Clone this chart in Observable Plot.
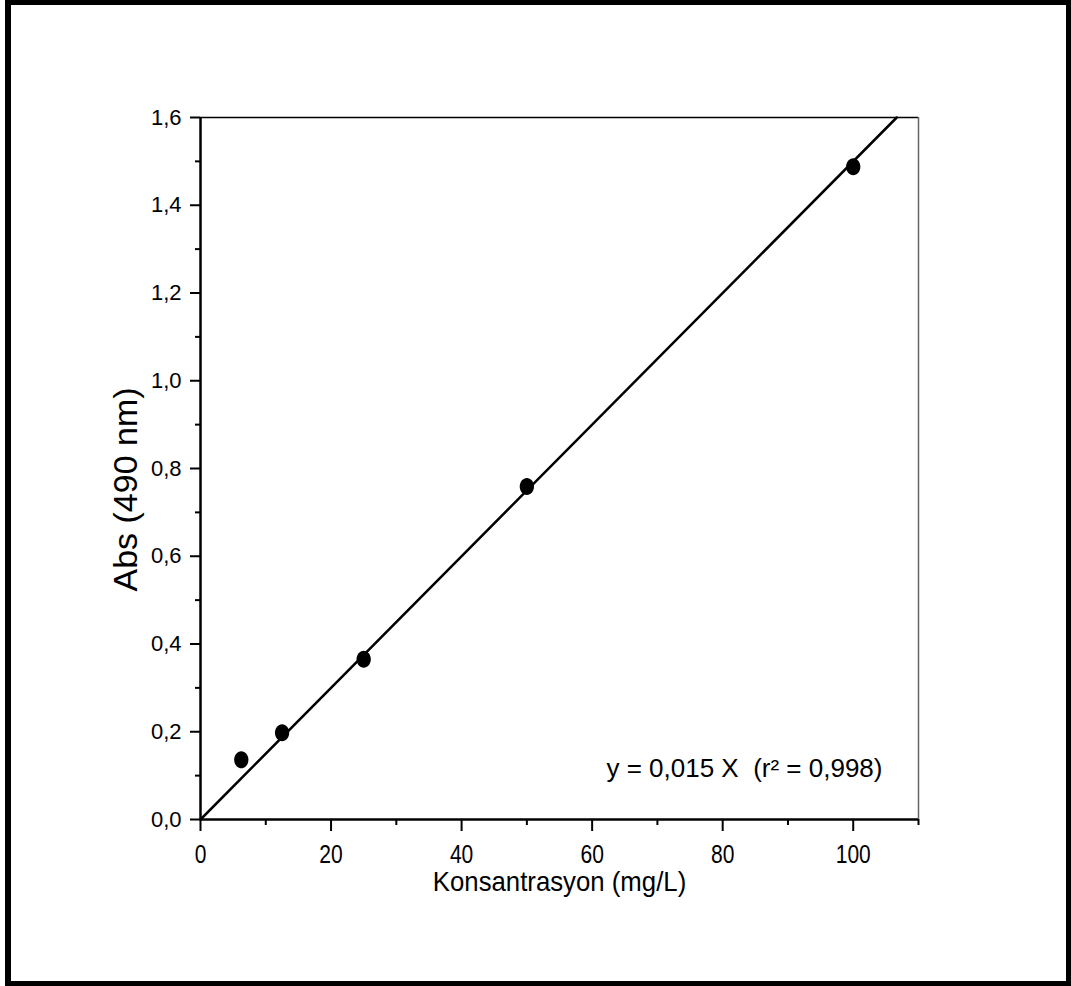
<!DOCTYPE html>
<html>
<head>
<meta charset="utf-8">
<script src="https://cdn.jsdelivr.net/npm/d3@7"></script>
<script src="https://cdn.jsdelivr.net/npm/@observablehq/plot@0.6"></script>
<style>
  html, body { margin: 0; padding: 0; background: #fff; }
  #wrap { position: relative; width: 1071px; height: 986px; overflow: hidden; }
  #border {
    position: absolute; left: 5px; top: 0; width: 1066px; height: 986px;
    box-sizing: border-box; border: 5px solid #000; border-left-width: 6px;
    pointer-events: none;
  }
  #chart { position: absolute; left: 0; top: 0; }
</style>
</head>
<body>
<div id="wrap"><div id="chart"></div><div id="border"></div></div>
<script>
// Calibration standards: concentration (mg/L) vs absorbance at 490 nm
const concentration = [6.25, 12.5, 25, 50, 100];
const absorbance = [0.136, 0.198, 0.365, 0.759, 1.488];

// Fit through the origin
const slope = 0.015;
const rSquared = "0,998";

const xMajorTicks = [0, 20, 40, 60, 80, 100];
const xMinorTicks = [10, 30, 50, 70, 90, 110];
const yMajorTicks = [0, 0.2, 0.4, 0.6, 0.8, 1.0, 1.2, 1.4, 1.6];
const yMinorTicks = [0.1, 0.3, 0.5, 0.7, 0.9, 1.1, 1.3, 1.5];

const xTitle = "Konsantrasyon (mg/L)";
const yTitle = "Abs (490 nm)";

const points = concentration.map((c, i) => ({c, a: absorbance[i]}));
const fitEnds = [0, 1.6 / slope];
const comma = d => d.toFixed(1).replace(".", ",");
const sans = "'Liberation Sans', Arial, sans-serif";

// slightly tall elliptical marker
const ellipse = {
  draw(ctx, size) {
    const ry = Math.sqrt(size / Math.PI), rx = ry * 0.84, k = 0.5523;
    ctx.moveTo(rx, 0);
    ctx.bezierCurveTo(rx, ry * k, rx * k, ry, 0, ry);
    ctx.bezierCurveTo(-rx * k, ry, -rx, ry * k, -rx, 0);
    ctx.bezierCurveTo(-rx, -ry * k, -rx * k, -ry, 0, -ry);
    ctx.bezierCurveTo(rx * k, -ry, rx, -ry * k, rx, 0);
    ctx.closePath();
  }
};

const chart = Plot.plot({
  width: 1071,
  height: 986,
  marginLeft: 200,
  marginRight: 153,
  marginTop: 117,
  marginBottom: 167,
  style: {fontFamily: sans, background: "transparent", color: "#000"},
  x: {domain: [0, 110], axis: null},
  y: {domain: [0, 1.6], axis: null},
  marks: [
    // plot box: thin top and right edges
    Plot.ruleY([1.6], {stroke: "#000", strokeWidth: 1.5}),
    Plot.ruleX([110], {stroke: "#666", strokeWidth: 1.5}),
    // minor ticks (outward)
    Plot.axisX({ticks: xMinorTicks, tickSize: 6, tickFormat: () => "", label: null, strokeWidth: 2}),
    Plot.axisY({ticks: yMinorTicks, tickSize: 5, tickFormat: () => "", label: null, strokeWidth: 2}),
    // major ticks
    Plot.axisX({ticks: xMajorTicks, tickSize: 12, tickFormat: () => "", label: null, strokeWidth: 2}),
    Plot.axisY({ticks: yMajorTicks, tickSize: 10, tickFormat: () => "", label: null, strokeWidth: 2}),
    // tick labels
    Plot.text(xMajorTicks, {x: d => d, y: () => 0, text: d => String(d), dy: 26,
      lineAnchor: "top", textAnchor: "middle", fontSize: 25, fill: "#000"}),
    Plot.text(yMajorTicks, {x: () => 0, y: d => d, text: comma, dx: -19,
      lineAnchor: "middle", textAnchor: "end", fontSize: 22, fill: "#000"}),
    // axis lines
    Plot.ruleX([0], {stroke: "#000", strokeWidth: 2.5}),
    Plot.ruleY([0], {stroke: "#000", strokeWidth: 2.5}),
    // axis titles
    Plot.text([xTitle], {frameAnchor: "bottom", dy: 63, lineAnchor: "middle",
      textAnchor: "middle", fontSize: 28, fill: "#000"}),
    Plot.text([yTitle], {frameAnchor: "left", dx: -74, dy: 21, rotate: -90,
      lineAnchor: "middle", textAnchor: "middle", fontSize: 34, fill: "#000"}),
    // fitted line y = slope * x
    Plot.line(fitEnds, {x: d => d, y: d => slope * d, stroke: "#000", strokeWidth: 2.5}),
    // measured standards
    Plot.dot(points, {x: "c", y: "a", r: 8.5, symbol: ellipse, fill: "#000", stroke: null}),
    // fit equation
    Plot.text([`y = ${String(slope).replace(".", ",")} X  (r² = ${rSquared})`], {
      frameAnchor: "bottom-right", dx: -36, dy: -51, textAnchor: "end", lineAnchor: "middle",
      fontSize: 26, fill: "#000"})
  ]
});
document.getElementById("chart").append(chart);

// Narrow the x tick labels and the x title to a condensed face
d3.select(chart).selectAll("text").each(function() {
  const t = this.textContent;
  let squeeze = null;
  if (/^\d+$/.test(t)) squeeze = 0.84;
  else if (t === xTitle) squeeze = 0.92;
  if (squeeze) {
    const len = this.getComputedTextLength();
    this.setAttribute("textLength", (len * squeeze).toFixed(1));
    this.setAttribute("lengthAdjust", "spacingAndGlyphs");
  }
});
</script>
</body>
</html>
